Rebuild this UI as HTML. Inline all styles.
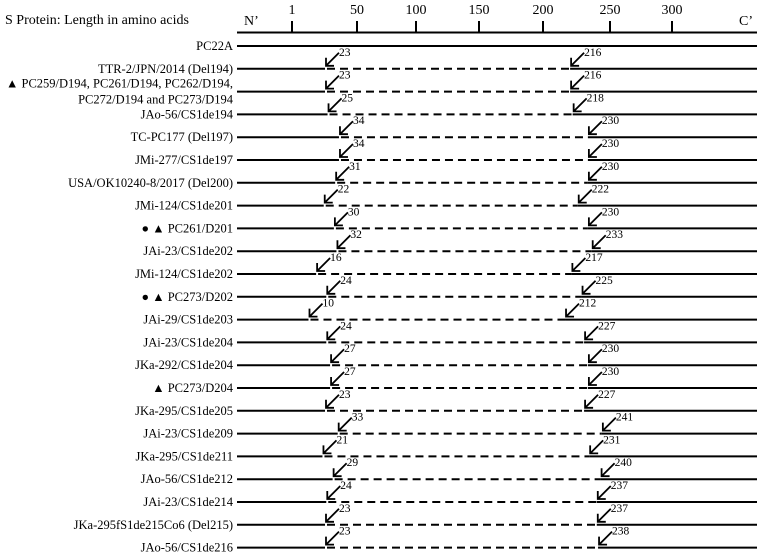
<!DOCTYPE html>
<html><head><meta charset="utf-8"><style>
body{margin:0;background:#fff}
svg{display:block;font-family:"Liberation Serif",serif}
</style></head><body>
<svg id="chart" width="761" height="556">
<text x="5" y="24" font-size="14">S Protein: Length in amino acids</text>
<g id="axis"></g>
<g id="rows"></g>
</svg>
<script>
const strains=["PC22A","TTR-2/JPN/2014 (Del194)","PC259/D194","JAo-56/CS1de194","TC-PC177 (Del197)","JMi-277/CS1de197","USA/OK10240-8/2017 (Del200)","JMi-124/CS1de201","PC261/D201","JAi-23/CS1de202","JMi-124/CS1de202","PC273/D202","JAi-29/CS1de203","JAi-23/CS1de204","JKa-292/CS1de204","PC273/D204","JKa-295/CS1de205","JAi-23/CS1de209","JKa-295/CS1de211","JAo-56/CS1de212","JAi-23/CS1de214","JKa-295fS1de215Co6 (Del215)","JAo-56/CS1de216"];
const delStart=[null,23,23,25,34,34,31,22,30,32,16,24,10,24,27,27,23,33,21,29,24,23,23];
const delEnd=[null,216,216,218,230,230,230,222,230,233,217,225,212,227,230,230,227,241,231,240,237,237,238];
const markers=["","","▲ ","","","","","","● ▲ ","","","● ▲ ","","","","▲ ","","","","","","",""];
const tickLabels=["1","50","100","150","200","250","300"];
const tickX=[292,357,416,479,543,610,672];
const NS="http://www.w3.org/2000/svg";
function mk(t,a,p){const e=document.createElementNS(NS,t);for(const k in a)e.setAttribute(k,a[k]);p.appendChild(e);return e;}
function xScale(aa){return 325+1.27*(aa-23);}
function yRow(i){return 46+i*22.8;}
const ax=document.getElementById('axis'),rows=document.getElementById('rows');
mk('line',{x1:237,y1:32.5,x2:757,y2:32.5,stroke:'#000','stroke-width':2},ax);
let t=mk('text',{x:244,y:25,'font-size':14},ax);t.textContent="N’";


t=mk('text',{x:739,y:25,'font-size':14},ax);t.textContent="C’";


tickLabels.forEach((l,i)=>{
 const ln=mk('line',{x1:tickX[i],y1:21,x2:tickX[i],y2:32,stroke:'#000','stroke-width':2},ax);
 
 
 const tx=mk('text',{x:tickX[i],y:14,'font-size':14,'text-anchor':'middle'},ax);tx.textContent=l;
 
 
});
strains.forEach((s,i)=>{
 const y=yRow(i);
 const g=mk('g',{},rows);
 
 
 if(i===2){
  let a=mk('text',{x:233,y:y-4,'font-size':12.5,'text-anchor':'end'},g);a.textContent="▲ PC259/D194, PC261/D194, PC262/D194,";
  
  
  a=mk('text',{x:233,y:y+12,'font-size':12.5,'text-anchor':'end'},g);a.textContent="PC272/D194 and PC273/D194";
  
  
 } else {
  const a=mk('text',{x:233,y:y+4,'font-size':12.5,'text-anchor':'end'},g);a.textContent=markers[i]+s;
  
  
 }
 if(delStart[i]==null){
  const l=mk('line',{x1:237,y1:y,x2:757,y2:y,stroke:'#000','stroke-width':2},g);
  
  
  return;
 }
 const x1=xScale(delStart[i]),x2=xScale(delEnd[i]);
 let l=mk('line',{x1:237,y1:y,x2:x1,y2:y,stroke:'#000','stroke-width':2},g);
 
 
 l=mk('line',{x1:x1+2,y1:y,x2:x2,y2:y,stroke:'#000','stroke-width':2,'stroke-dasharray':'8,5'},g);
 
 
 l=mk('line',{x1:x2,y1:y,x2:757,y2:y,stroke:'#000','stroke-width':2},g);
 
 
 [[x1,delStart[i]],[x2,delEnd[i]]].forEach(([x,v])=>{
  const ar=mk('path',{d:`M${x+14},${y-16} L${x+1},${y-3} M${x+1},${y-11} L${x+1},${y-3} L${x+9},${y-3}`,stroke:'#000','stroke-width':1.8,fill:'none'},g);
  
  
  const tx=mk('text',{x:x+14,y:y-13,'font-size':11.5},g);tx.textContent=v;
  
  
 });
});
</script>
</body></html>
